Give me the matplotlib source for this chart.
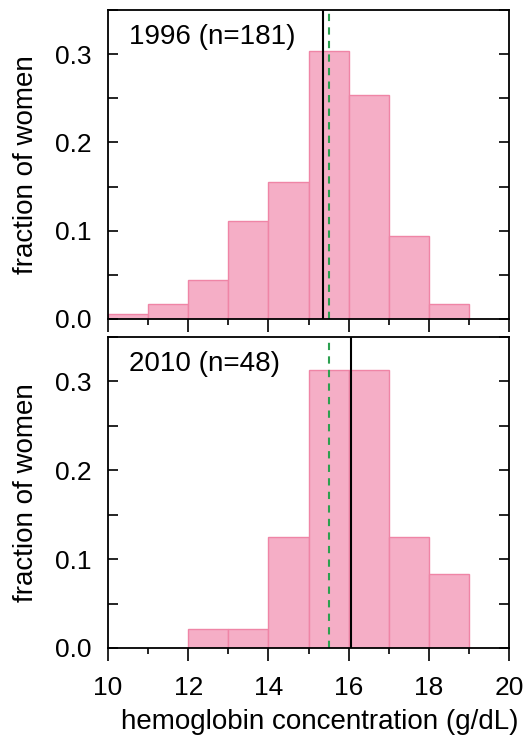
import matplotlib
matplotlib.use("Agg")
import matplotlib.pyplot as plt
from matplotlib.ticker import MultipleLocator, FormatStrFormatter

plt.rcParams['font.family'] = ['Liberation Sans', 'DejaVu Sans']

bin_edges = [10, 11, 12, 13, 14, 15, 16, 17, 18, 19]
frac_1996 = [1/181, 3/181, 8/181, 20/181, 28/181, 55/181, 46/181, 17/181, 3/181]
frac_2010 = [0, 0, 1/48, 1/48, 6/48, 15/48, 15/48, 6/48, 4/48]
labels = ["1996 (n=181)", "2010 (n=48)"]
mean_lines = [15.36, 16.05]
ref_line = 15.5

fig = plt.figure(figsize=(5.27, 7.35), dpi=100)
ax1 = fig.add_axes([0.205, 0.566, 0.761, 0.4205])
ax2 = fig.add_axes([0.205, 0.1184, 0.761, 0.4231])

fill = '#f5aec6'
edge = '#ef85a6'
for ax, vals, lab, m in zip([ax1, ax2], [frac_1996, frac_2010], labels, mean_lines):
    lefts = bin_edges[:-1]
    xs = [l for l, h in zip(lefts, vals) if h > 0]
    hs = [h for h in vals if h > 0]
    ax.bar(xs, hs, width=1, align='edge', color=fill, edgecolor=edge, linewidth=1.0)
    ax.axvline(m, color='black', lw=1.5)
    ax.axvline(ref_line, color='#2ca04f', lw=1.5, ls=(0, (3.5, 3)))
    ax.set_xlim(10, 20)
    ax.set_ylim(0, 0.35)
    ax.yaxis.set_major_locator(MultipleLocator(0.1))
    ax.yaxis.set_minor_locator(MultipleLocator(0.05))
    ax.xaxis.set_major_locator(MultipleLocator(2))
    ax.xaxis.set_minor_locator(MultipleLocator(1))
    ax.tick_params(axis='y', which='both', direction='in', left=True, right=True,
                   length=7, width=1.2, labelsize=19, pad=12)
    ax.tick_params(axis='x', which='major', direction='out', length=9, width=1.2,
                   labelsize=19, pad=11)
    ax.tick_params(axis='x', which='minor', direction='out', length=4, width=1.2)
    ax.yaxis.set_major_formatter(FormatStrFormatter('%.1f'))
    ax.set_ylabel("fraction of women", fontsize=20, labelpad=11)
    for s in ax.spines.values():
        s.set_linewidth(1.3)
    ax.text(0.053, 0.955, lab, transform=ax.transAxes, fontsize=20, va='top', ha='left')

ax1.tick_params(axis='x', labelbottom=False)
ax2.set_xlabel("hemoglobin concentration (g/dL)", fontsize=20)
ax2.xaxis.set_label_coords(0.529, -0.195)

fig.savefig("out.png", dpi=100)
